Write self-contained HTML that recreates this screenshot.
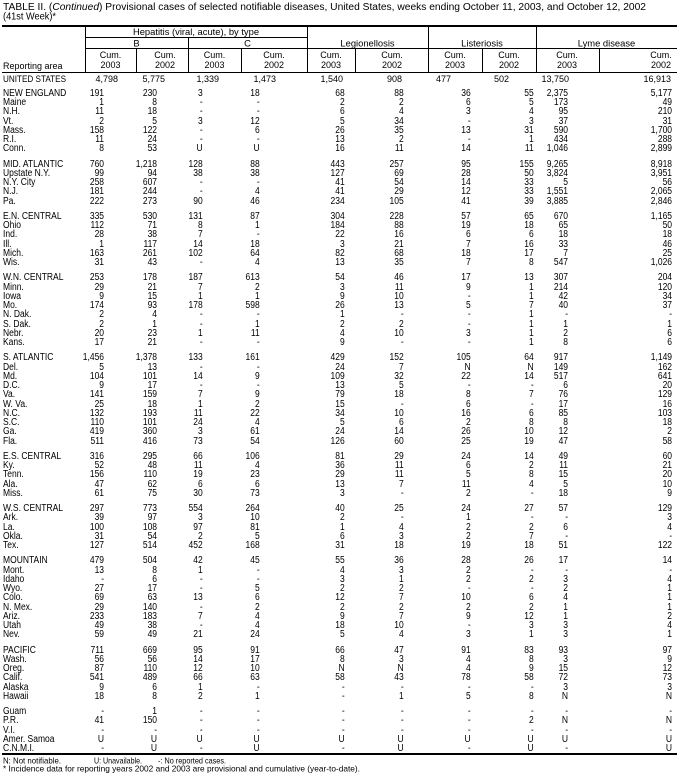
<!DOCTYPE html>
<html><head><meta charset="utf-8"><style>
html,body{margin:0;padding:0;background:#fff}
body{width:685px;height:777px;overflow:hidden;position:relative;font-family:"Liberation Sans",Arial,sans-serif;color:#000}
svg{position:absolute;left:0;top:0}
.c{position:absolute;top:88.75px;font-size:10px;line-height:9.25px;text-align:right;transform:scaleX(.85);transform-origin:100% 0;white-space:nowrap}
.c p{margin:0 0 6px 0}
.lab{left:3px;text-align:left;transform-origin:0 0}
</style></head><body>
<svg width="685" height="777" font-family="Liberation Sans, Arial, sans-serif" fill="#000">
<text x="3" y="10" font-size="10" textLength="643" lengthAdjust="spacingAndGlyphs">TABLE II. (<tspan font-style="italic">Continued</tspan>) Provisional cases of selected notifiable diseases, United States, weeks ending October 11, 2003, and October 12, 2002</text>
<text x="3" y="19.5" font-size="10" textLength="53" lengthAdjust="spacingAndGlyphs">(41st Week)*</text>
<rect x="2" y="25" width="675" height="2"/>
<rect x="2" y="72" width="675" height="1"/>
<rect x="85" y="37" width="222" height="1"/>
<rect x="85" y="48" width="592" height="1"/>
<rect x="85" y="27" width="1" height="45"/>
<rect x="307" y="27" width="1" height="45"/>
<rect x="428" y="27" width="1" height="45"/>
<rect x="536" y="27" width="1" height="45"/>
<rect x="188" y="37" width="1" height="35"/>
<rect x="136" y="48" width="1" height="24"/>
<rect x="241" y="48" width="1" height="24"/>
<rect x="355" y="48" width="1" height="24"/>
<rect x="482" y="48" width="1" height="24"/>
<rect x="599" y="48" width="1" height="24"/>
<rect x="2" y="753" width="675" height="2"/>
<g font-size="9.4" text-anchor="middle">
<text x="196" y="35">Hepatitis (viral, acute), by type</text>
<text x="136.5" y="46.5">B</text>
<text x="247.5" y="46.5">C</text>
<text x="367.5" y="46.5">Legionellosis</text>
<text x="482" y="46.5">Listeriosis</text>
<text x="606.5" y="46.5">Lyme disease</text>
</g>
<g font-size="9" text-anchor="middle">
<text x="110.5" y="58">Cum.</text><text x="110.5" y="68">2003</text>
<text x="165" y="58">Cum.</text><text x="165" y="68">2002</text>
<text x="214.5" y="58">Cum.</text><text x="214.5" y="68">2003</text>
<text x="274" y="58">Cum.</text><text x="274" y="68">2002</text>
<text x="331" y="58">Cum.</text><text x="331" y="68">2003</text>
<text x="392" y="58">Cum.</text><text x="392" y="68">2002</text>
<text x="455" y="58">Cum.</text><text x="455" y="68">2003</text>
<text x="509" y="58">Cum.</text><text x="509" y="68">2002</text>
<text x="567" y="58">Cum.</text><text x="567" y="68">2003</text>
<text x="661" y="58">Cum.</text><text x="661" y="68">2002</text>
</g>
<text x="3" y="69" font-size="9">Reporting area</text>
<text x="3" y="82" font-size="9" textLength="63" lengthAdjust="spacingAndGlyphs">UNITED STATES</text>
<g font-size="9" text-anchor="end">
<text x="118" y="82">4,798</text>
<text x="165" y="82">5,775</text>
<text x="219" y="82">1,339</text>
<text x="276" y="82">1,473</text>
<text x="343" y="82">1,540</text>
<text x="402" y="82">908</text>
<text x="451" y="82">477</text>
<text x="509" y="82">502</text>
<text x="569" y="82">13,750</text>
<text x="671" y="82">16,913</text>
</g>
<g font-size="8.5">
<text x="3" y="763.5" textLength="58" lengthAdjust="spacingAndGlyphs">N: Not notifiable.</text>
<text x="94" y="763.5" textLength="48" lengthAdjust="spacingAndGlyphs">U: Unavailable.</text>
<text x="158" y="763.5" textLength="68" lengthAdjust="spacingAndGlyphs">-: No reported cases.</text>
<text x="3" y="771.5" textLength="357" lengthAdjust="spacingAndGlyphs">* Incidence data for reporting years 2002 and 2003 are provisional and cumulative (year-to-date).</text>
</g>
</svg>

<div class="c lab">
<p>NEW ENGLAND<br>Maine<br>N.H.<br>Vt.<br>Mass.<br>R.I.<br>Conn.</p>
<p>MID. ATLANTIC<br>Upstate N.Y.<br>N.Y. City<br>N.J.<br>Pa.</p>
<p>E.N. CENTRAL<br>Ohio<br>Ind.<br>Ill.<br>Mich.<br>Wis.</p>
<p>W.N. CENTRAL<br>Minn.<br>Iowa<br>Mo.<br>N. Dak.<br>S. Dak.<br>Nebr.<br>Kans.</p>
<p>S. ATLANTIC<br>Del.<br>Md.<br>D.C.<br>Va.<br>W. Va.<br>N.C.<br>S.C.<br>Ga.<br>Fla.</p>
<p>E.S. CENTRAL<br>Ky.<br>Tenn.<br>Ala.<br>Miss.</p>
<p>W.S. CENTRAL<br>Ark.<br>La.<br>Okla.<br>Tex.</p>
<p>MOUNTAIN<br>Mont.<br>Idaho<br>Wyo.<br>Colo.<br>N. Mex.<br>Ariz.<br>Utah<br>Nev.</p>
<p>PACIFIC<br>Wash.<br>Oreg.<br>Calif.<br>Alaska<br>Hawaii</p>
<p>Guam<br>P.R.<br>V.I.<br>Amer. Samoa<br>C.N.M.I.</p>
</div>

<div class="c" style="right:581px">
<p>191<br>1<br>11<br>2<br>158<br>11<br>8</p>
<p>760<br>99<br>258<br>181<br>222</p>
<p>335<br>112<br>28<br>1<br>163<br>31</p>
<p>253<br>29<br>9<br>174<br>2<br>2<br>20<br>17</p>
<p>1,456<br>5<br>104<br>9<br>141<br>25<br>132<br>110<br>419<br>511</p>
<p>316<br>52<br>156<br>47<br>61</p>
<p>297<br>39<br>100<br>31<br>127</p>
<p>479<br>13<br>-<br>27<br>69<br>29<br>233<br>49<br>59</p>
<p>711<br>56<br>87<br>541<br>9<br>18</p>
<p>-<br>41<br>-<br>U<br>-</p>
</div>

<div class="c" style="right:528px">
<p>230<br>8<br>18<br>5<br>122<br>24<br>53</p>
<p>1,218<br>94<br>607<br>244<br>273</p>
<p>530<br>71<br>38<br>117<br>261<br>43</p>
<p>178<br>21<br>15<br>93<br>4<br>1<br>23<br>21</p>
<p>1,378<br>13<br>101<br>17<br>159<br>18<br>193<br>101<br>360<br>416</p>
<p>295<br>48<br>110<br>62<br>75</p>
<p>773<br>97<br>108<br>54<br>514</p>
<p>504<br>8<br>6<br>17<br>63<br>140<br>183<br>38<br>49</p>
<p>669<br>56<br>110<br>489<br>6<br>8</p>
<p>1<br>150<br>-<br>U<br>U</p>
</div>

<div class="c" style="right:482px">
<p>3<br>-<br>-<br>3<br>-<br>-<br>U</p>
<p>128<br>38<br>-<br>-<br>90</p>
<p>131<br>8<br>7<br>14<br>102<br>-</p>
<p>187<br>7<br>1<br>178<br>-<br>-<br>1<br>-</p>
<p>133<br>-<br>14<br>-<br>7<br>1<br>11<br>24<br>3<br>73</p>
<p>66<br>11<br>19<br>6<br>30</p>
<p>554<br>3<br>97<br>2<br>452</p>
<p>42<br>1<br>-<br>-<br>13<br>-<br>7<br>-<br>21</p>
<p>95<br>14<br>12<br>66<br>1<br>2</p>
<p>-<br>-<br>-<br>U<br>-</p>
</div>

<div class="c" style="right:425px">
<p>18<br>-<br>-<br>12<br>6<br>-<br>U</p>
<p>88<br>38<br>-<br>4<br>46</p>
<p>87<br>1<br>-<br>18<br>64<br>4</p>
<p>613<br>2<br>1<br>598<br>-<br>1<br>11<br>-</p>
<p>161<br>-<br>9<br>-<br>9<br>2<br>22<br>4<br>61<br>54</p>
<p>106<br>4<br>23<br>6<br>73</p>
<p>264<br>10<br>81<br>5<br>168</p>
<p>45<br>-<br>-<br>5<br>6<br>2<br>4<br>4<br>24</p>
<p>91<br>17<br>10<br>63<br>-<br>1</p>
<p>-<br>-<br>-<br>U<br>U</p>
</div>

<div class="c" style="right:340px">
<p>68<br>2<br>6<br>5<br>26<br>13<br>16</p>
<p>443<br>127<br>41<br>41<br>234</p>
<p>304<br>184<br>22<br>3<br>82<br>13</p>
<p>54<br>3<br>9<br>26<br>1<br>2<br>4<br>9</p>
<p>429<br>24<br>109<br>13<br>79<br>15<br>34<br>5<br>24<br>126</p>
<p>81<br>36<br>29<br>13<br>3</p>
<p>40<br>2<br>1<br>6<br>31</p>
<p>55<br>4<br>3<br>2<br>12<br>2<br>9<br>18<br>5</p>
<p>66<br>8<br>N<br>58<br>-<br>-</p>
<p>-<br>-<br>-<br>U<br>-</p>
</div>

<div class="c" style="right:281px">
<p>88<br>2<br>4<br>34<br>35<br>2<br>11</p>
<p>257<br>69<br>54<br>29<br>105</p>
<p>228<br>88<br>16<br>21<br>68<br>35</p>
<p>46<br>11<br>10<br>13<br>-<br>2<br>10<br>-</p>
<p>152<br>7<br>32<br>5<br>18<br>-<br>10<br>6<br>14<br>60</p>
<p>29<br>11<br>11<br>7<br>-</p>
<p>25<br>-<br>4<br>3<br>18</p>
<p>36<br>3<br>1<br>2<br>7<br>2<br>7<br>10<br>4</p>
<p>47<br>3<br>N<br>43<br>-<br>1</p>
<p>-<br>-<br>-<br>U<br>U</p>
</div>

<div class="c" style="right:214px">
<p>36<br>6<br>3<br>-<br>13<br>-<br>14</p>
<p>95<br>28<br>14<br>12<br>41</p>
<p>57<br>19<br>6<br>7<br>18<br>7</p>
<p>17<br>9<br>-<br>5<br>-<br>-<br>3<br>-</p>
<p>105<br>N<br>22<br>-<br>8<br>6<br>16<br>2<br>26<br>25</p>
<p>24<br>6<br>5<br>11<br>2</p>
<p>24<br>1<br>2<br>2<br>19</p>
<p>28<br>2<br>2<br>-<br>10<br>2<br>9<br>-<br>3</p>
<p>91<br>4<br>4<br>78<br>-<br>5</p>
<p>-<br>-<br>-<br>U<br>-</p>
</div>

<div class="c" style="right:151px">
<p>55<br>5<br>4<br>3<br>31<br>1<br>11</p>
<p>155<br>50<br>33<br>33<br>39</p>
<p>65<br>18<br>6<br>16<br>17<br>8</p>
<p>13<br>1<br>1<br>7<br>1<br>1<br>1<br>1</p>
<p>64<br>N<br>14<br>-<br>7<br>-<br>6<br>8<br>10<br>19</p>
<p>14<br>2<br>8<br>4<br>-</p>
<p>27<br>-<br>2<br>7<br>18</p>
<p>26<br>-<br>2<br>-<br>6<br>2<br>12<br>3<br>1</p>
<p>83<br>8<br>9<br>58<br>-<br>8</p>
<p>-<br>2<br>-<br>U<br>U</p>
</div>

<div class="c" style="right:117px">
<p>2,375<br>173<br>95<br>37<br>590<br>434<br>1,046</p>
<p>9,265<br>3,824<br>5<br>1,551<br>3,885</p>
<p>670<br>65<br>18<br>33<br>7<br>547</p>
<p>307<br>214<br>42<br>40<br>-<br>1<br>2<br>8</p>
<p>917<br>149<br>517<br>6<br>76<br>17<br>85<br>8<br>12<br>47</p>
<p>49<br>11<br>15<br>5<br>18</p>
<p>57<br>-<br>6<br>-<br>51</p>
<p>17<br>-<br>3<br>2<br>4<br>1<br>1<br>3<br>3</p>
<p>93<br>3<br>15<br>72<br>3<br>N</p>
<p>-<br>N<br>-<br>U<br>-</p>
</div>

<div class="c" style="right:13px">
<p>5,177<br>49<br>210<br>31<br>1,700<br>288<br>2,899</p>
<p>8,918<br>3,951<br>56<br>2,065<br>2,846</p>
<p>1,165<br>50<br>18<br>46<br>25<br>1,026</p>
<p>204<br>120<br>34<br>37<br>-<br>1<br>6<br>6</p>
<p>1,149<br>162<br>641<br>20<br>129<br>16<br>103<br>18<br>2<br>58</p>
<p>60<br>21<br>20<br>10<br>9</p>
<p>129<br>3<br>4<br>-<br>122</p>
<p>14<br>-<br>4<br>1<br>1<br>1<br>2<br>4<br>1</p>
<p>97<br>9<br>12<br>73<br>3<br>N</p>
<p>-<br>N<br>-<br>U<br>U</p>
</div>
</body></html>
